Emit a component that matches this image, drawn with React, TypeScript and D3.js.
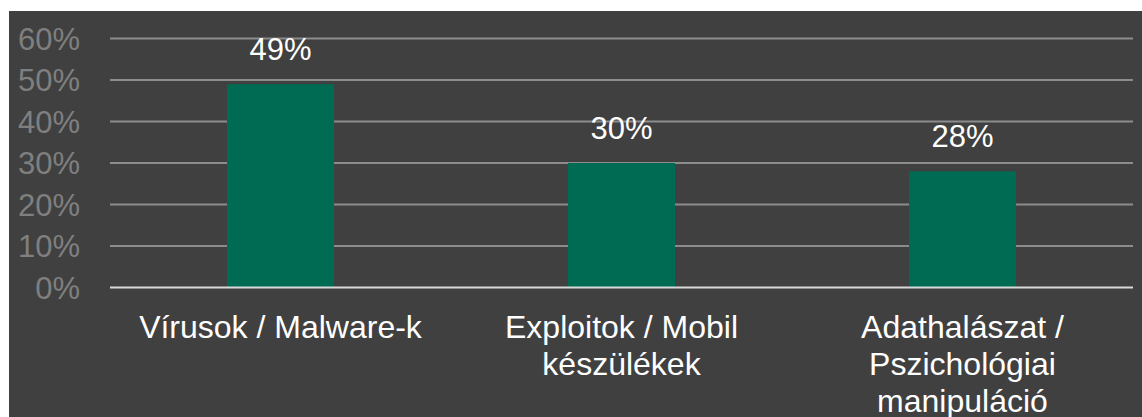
import React from "react";
import * as d3 from "d3";

const categories: string[][] = [
  ["Vírusok / Malware-k"],
  ["Exploitok / Mobil", "készülékek"],
  ["Adathalászat /", "Pszichológiai", "manipuláció"],
];
const values: number[] = [0.49, 0.3, 0.28];
const yTicks: number[] = [0, 0.1, 0.2, 0.3, 0.4, 0.5, 0.6];

const W = 1142;
const H = 417;
const FONT = "'Liberation Sans', Arial, Helvetica, sans-serif";

export default function App() {
  const plotLeft = 110;
  const plotRight = 1133;
  const y = d3.scaleLinear().domain([0, 0.6]).range([287.5, 38.5]);
  const x = d3
    .scaleBand<number>()
    .domain(d3.range(categories.length))
    .range([plotLeft, plotRight])
    .paddingInner(0.686)
    .paddingOuter(0.343);
  const pct = d3.format(".0%");

  return (
    <svg
      width={W}
      height={H}
      style={{ position: "absolute", left: 0, top: 0, display: "block" }}
    >
      <rect x={9} y={11} width={W - 9} height={H - 11} fill="#404040" />

      {/* horizontal gridlines */}
      {yTicks.slice(1).map((t) => (
        <line
          key={t}
          x1={plotLeft}
          x2={plotRight}
          y1={y(t)}
          y2={y(t)}
          stroke="#8c8c8c"
          strokeWidth={2}
        />
      ))}

      {/* y tick labels */}
      {yTicks.map((t) => (
        <text
          key={t}
          x={80}
          y={y(t) + 11}
          textAnchor="end"
          fontFamily={FONT}
          fontSize={31}
          fill="#7f7f7f"
        >
          {pct(t)}
        </text>
      ))}

      {/* bars and value labels */}
      {values.map((v, i) => (
        <g key={i}>
          <rect
            x={x(i)}
            y={y(v)}
            width={x.bandwidth()}
            height={y(0) - y(v)}
            fill="#006b53"
          />
          <text
            x={(x(i) as number) + x.bandwidth() / 2}
            y={y(v) - 24}
            textAnchor="middle"
            fontFamily={FONT}
            fontSize={31}
            fill="#ffffff"
          >
            {pct(v)}
          </text>
        </g>
      ))}

      {/* baseline */}
      <line
        x1={plotLeft}
        x2={plotRight}
        y1={y(0)}
        y2={y(0)}
        stroke="#d9d9d9"
        strokeWidth={2}
      />

      {/* category labels */}
      {categories.map((lines, i) => (
        <text
          key={i}
          textAnchor="middle"
          fontFamily={FONT}
          fontSize={32}
          fill="#ffffff"
        >
          {lines.map((ln, j) => (
            <tspan
              key={j}
              x={(x(i) as number) + x.bandwidth() / 2}
              y={338 + j * 37}
            >
              {ln}
            </tspan>
          ))}
        </text>
      ))}
    </svg>
  );
}
